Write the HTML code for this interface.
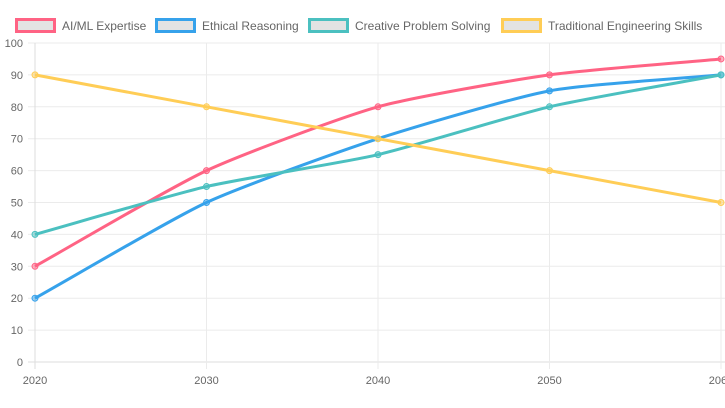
<!DOCTYPE html>
<html><head><meta charset="utf-8"><style>
html,body{margin:0;padding:0;background:#fff;width:725px;height:408px;overflow:hidden}
svg{display:block;font-family:"Liberation Sans",Arial,sans-serif}
</style></head><body>
<svg id="c" width="725" height="408" xmlns="http://www.w3.org/2000/svg">
<g font-size="12" fill="#666">
<rect x="16.5" y="19.5" width="38" height="12" fill="#e3e3e3" stroke="#ff6384" stroke-width="3"/>
<text x="62" y="30">AI/ML Expertise</text>
<rect x="156.5" y="19.5" width="38" height="12" fill="#e3e3e3" stroke="#36a2eb" stroke-width="3"/>
<text x="202" y="30">Ethical Reasoning</text>
<rect x="309.5" y="19.5" width="38" height="12" fill="#e3e3e3" stroke="#4bc0c0" stroke-width="3"/>
<text x="355" y="30">Creative Problem Solving</text>
<rect x="502.5" y="19.5" width="38" height="12" fill="#e3e3e3" stroke="#ffcd56" stroke-width="3"/>
<text x="548" y="30">Traditional Engineering Skills</text>
</g>
<g id="grid"></g>
<g id="lines"></g>
</svg>
<script>
const X=i=>35+i*171.5, Y=v=>362-v*3.19;
let g=document.getElementById('grid'),h='';
for(let v=0;v<=100;v+=10){let y=Y(v).toFixed(1);h+=`<line x1="28" x2="725" y1="${y}" y2="${y}" stroke="${v==0?'#ddd':'#ebebeb'}"/><text x="23" y="${+y+4}" text-anchor="end" font-size="11" fill="#666">${v}</text>`;}
for(let i=0;i<5;i++){let x=X(i);h+=`<line x1="${x}" x2="${x}" y1="43" y2="369" stroke="${i==0?'#ddd':'#ebebeb'}"/><text x="${x}" y="384" text-anchor="middle" font-size="11" fill="#666">${2020+i*10}</text>`;}
g.innerHTML=h;
const series=[[[30,60,80,90,95],'#ff6384'],[[20,50,70,85,90],'#36a2eb'],[[40,55,65,80,90],'#4bc0c0'],[[90,80,70,60,50],'#ffcd56']];
let L='';
for(const [d,c] of series){
 const p=d.map((v,i)=>({x:X(i),y:Y(v)}));
 const cps=p.map((cur,i)=>{const pr=p[i-1]||cur,nx=p[i+1]||cur;
  const d01=Math.hypot(cur.x-pr.x,cur.y-pr.y),d12=Math.hypot(nx.x-cur.x,nx.y-cur.y);
  let s01=d01/(d01+d12),s12=d12/(d01+d12);if(isNaN(s01))s01=0;if(isNaN(s12))s12=0;
  const t=0.2,fa=t*s01,fb=t*s12;
  return{p:{x:cur.x-fa*(nx.x-pr.x),y:cur.y-fa*(nx.y-pr.y)},n:{x:cur.x+fb*(nx.x-pr.x),y:cur.y+fb*(nx.y-pr.y)}};});
 let path=`M${p[0].x},${p[0].y}`;
 for(let i=1;i<p.length;i++)path+=` C${cps[i-1].n.x},${cps[i-1].n.y} ${cps[i].p.x},${cps[i].p.y} ${p[i].x},${p[i].y}`;
 L+=`<path d="${path}" fill="none" stroke="${c}" stroke-width="3"/>`;
 for(const q of p)L+=`<circle cx="${q.x}" cy="${q.y}" r="3" fill="${c}" fill-opacity="0.5" stroke="${c}"/>`;
}
document.getElementById('lines').innerHTML=L;
</script>
</body></html>
